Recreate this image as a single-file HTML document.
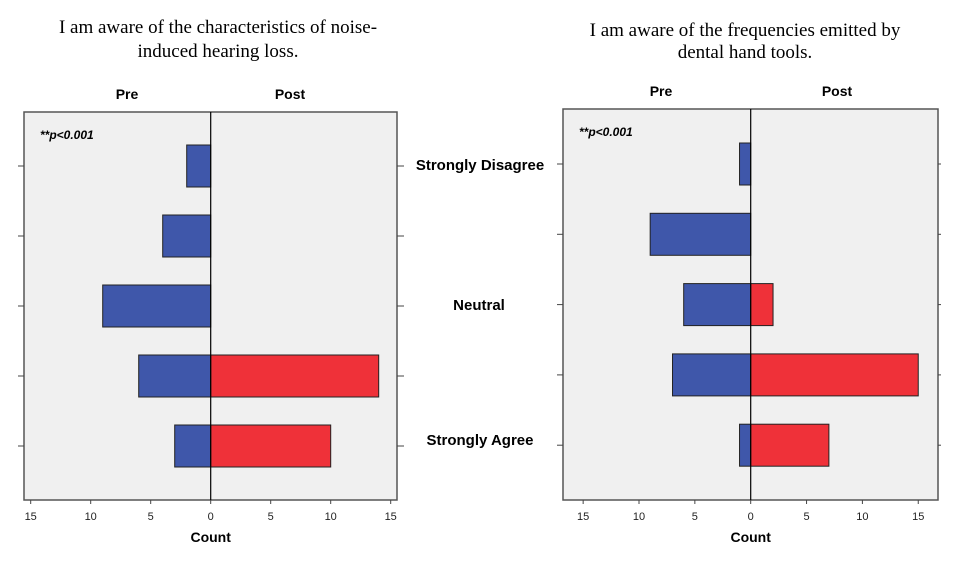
<!DOCTYPE html>
<html><head><meta charset="utf-8"><style>
html,body{margin:0;padding:0;background:#fff;}
svg{display:block;}
.t{font-family:"Liberation Serif",serif;font-size:19px;fill:#000;}
.b{font-family:"Liberation Sans",sans-serif;font-weight:bold;fill:#000;}
.tk{font-family:"Liberation Sans",sans-serif;font-size:11px;fill:#222;}
</style></head><body>
<svg id="c" width="976" height="567" viewBox="0 0 976 567" xmlns="http://www.w3.org/2000/svg">
<text class="t" x="218" y="33" text-anchor="middle">I am aware of the characteristics of noise-</text>
<text class="t" x="218" y="57" text-anchor="middle">induced hearing loss.</text>
<text class="t" x="745" y="36" text-anchor="middle">I am aware of the frequencies emitted by</text>
<text class="t" x="745" y="58" text-anchor="middle">dental hand tools.</text>
<text class="b" x="480" y="170" font-size="15" text-anchor="middle">Strongly Disagree</text>
<text class="b" x="479" y="310" font-size="15" text-anchor="middle">Neutral</text>
<text class="b" x="480" y="445" font-size="15" text-anchor="middle">Strongly Agree</text>
</svg>
<script>
const categories = ["Strongly Disagree","Disagree","Neutral","Agree","Strongly Agree"];
const leftPre = [2,4,9,6,3];
const leftPost = [0,0,0,14,10];
const rightPre = [1,9,6,7,1];
const rightPost = [0,0,2,15,7];
const tickValues = [15,10,5,0,5,10,15];

const NS="http://www.w3.org/2000/svg";
const svg=document.getElementById('c');
function mk(tag,attrs,parent){const e=document.createElementNS(NS,tag);for(const k in attrs)e.setAttribute(k,attrs[k]);(parent||svg).appendChild(e);return e;}

function drawPanel(p){
  const g=mk('g',{});
  
  
  const xs=v=>p.zero+v*p.scale;
  const ys=i=>p.y0+i*p.step;
  const bg=mk('rect',{x:p.x1,y:p.top,width:p.x2-p.x1,height:p.bottom-p.top,fill:'#f0f0f0',stroke:'#555','stroke-width':1.5},g);
  
  
  const hw=21;
  categories.forEach((c,i)=>{
    const pre=p.pre[i], post=p.post[i];
    if(pre>0){
      const r=mk('rect',{x:xs(-pre),y:ys(i)-hw,width:xs(0)-xs(-pre),height:hw*2,fill:'#3f57aa',stroke:'#222','stroke-width':1},g);
      
      
    }
    if(post>0){
      const r=mk('rect',{x:xs(0),y:ys(i)-hw,width:xs(post)-xs(0),height:hw*2,fill:'#ef3139',stroke:'#222','stroke-width':1},g);
      
      
    }
    if(p.leftTicks) mk('line',{x1:p.x1-6,x2:p.x1,y1:ys(i),y2:ys(i),stroke:'#444'},g);
    mk('line',{x1:p.x2,x2:p.x2+p.rtick,y1:ys(i),y2:ys(i),stroke:'#444'},g);
  });
  mk('line',{x1:xs(0),x2:xs(0),y1:p.top,y2:p.bottom,stroke:'#000','stroke-width':1.2},g);
  tickValues.forEach((v,j)=>{
    const x=xs(j<3?-v:v);
    mk('line',{x1:x,x2:x,y1:p.bottom,y2:p.bottom+4,stroke:'#444'},g);
    const t=mk('text',{x:x,y:p.bottom+20,'text-anchor':'middle',class:'tk'},g);
    t.textContent=v;
    
    
  });
  const ct=mk('text',{x:xs(0),y:p.bottom+42,'text-anchor':'middle',class:'b','font-size':14},g);
  ct.textContent='Count';
  
  
  const pr=mk('text',{x:p.preX,y:p.top-13,'text-anchor':'middle',class:'b','font-size':14},g);
  pr.textContent='Pre';
  
  
  const po=mk('text',{x:p.postX,y:p.top-13,'text-anchor':'middle',class:'b','font-size':14},g);
  po.textContent='Post';
  
  
  const pv=mk('text',{x:p.x1+16,y:p.top+27,class:'b','font-size':12,'font-style':'italic'},g);
  pv.textContent='**p<0.001';
  
  
}
drawPanel({id:'left',x1:24,x2:397,top:112,bottom:500,zero:210.7,scale:12,y0:166,step:70,pre:leftPre,post:leftPost,leftTicks:true,rtick:7,preX:127,postX:290});
drawPanel({id:'right',x1:563,x2:938,top:109,bottom:500,zero:750.7,scale:11.17,y0:164,step:70.3,pre:rightPre,post:rightPost,leftTicks:true,rtick:3,preX:661,postX:837});
</script>
</body></html>
